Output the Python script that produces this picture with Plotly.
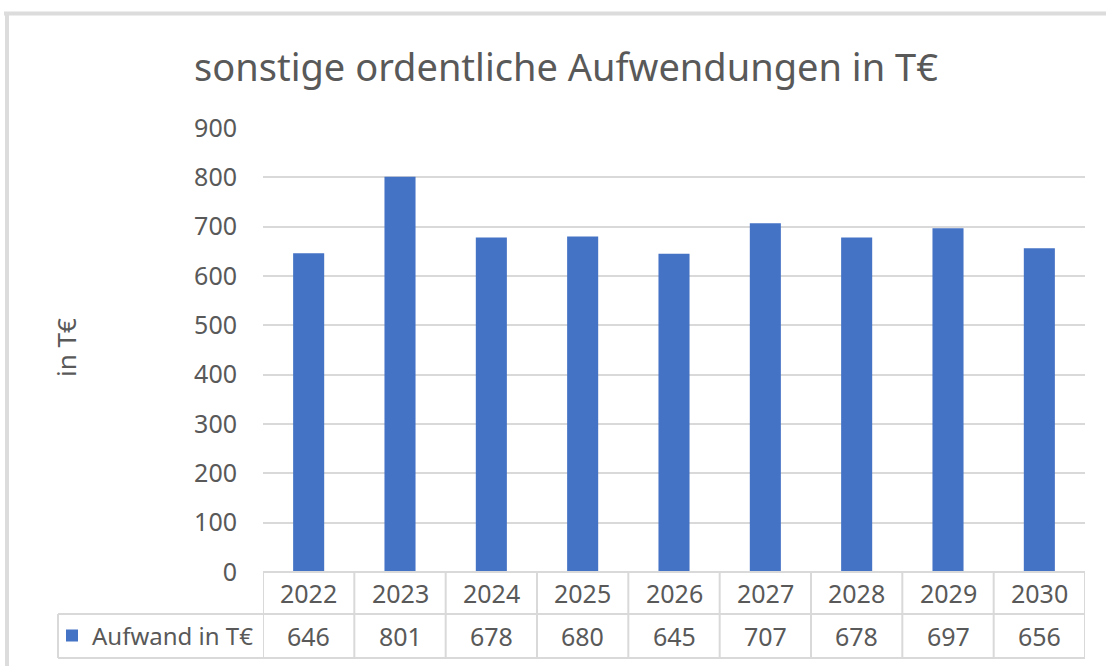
import plotly.graph_objects as go

# Data
years = ['2022', '2023', '2024', '2025', '2026', '2027', '2028', '2029', '2030']
aufwand = [646, 801, 678, 680, 645, 707, 678, 697, 656]
series_name = 'Aufwand in T€'
title_text = 'sonstige ordentliche Aufwendungen in T€'
y_title = 'in T€'
y_ticks = [0, 100, 200, 300, 400, 500, 600, 700, 800, 900]

W, H = 1106, 666
ML, MR, MT, MB = 263, 21, 128, 94
PW = W - ML - MR
PH = H - MT - MB

GRID = '#d9d9d9'
TXT = '#595959'
BLUE = '#4472C4'
FONT = 'Noto Sans'


def px_x(px):
    # pixel x -> paper x
    return (px - ML) / PW


def px_y(py):
    # pixel y -> paper y
    return (H - MB - py) / PH


fig = go.Figure()
fig.add_trace(go.Bar(x=years, y=aufwand, name=series_name,
                     marker=dict(color=BLUE, line=dict(width=0)),
                     showlegend=True))

# Table geometry (pixels)
row_top, row_mid, row_bot = 572, 614, 658
table_left = 58

shapes = []
# horizontal lines of the data table
shapes.append(dict(type='line', xref='x', yref='paper', x0=-0.5, x1=len(years) - 0.5,
                   y0=px_y(row_top), y1=px_y(row_top), line=dict(color=GRID, width=2)))
for ry in (row_mid, row_bot):
    shapes.append(dict(type='line', xref='paper', yref='paper', x0=px_x(table_left), x1=1,
                       y0=px_y(ry), y1=px_y(ry), line=dict(color=GRID, width=2)))
# vertical lines of the data table
for k in range(len(years) + 1):
    shapes.append(dict(type='line', xref='x', yref='paper', x0=k - 0.5, x1=k - 0.5,
                       y0=px_y(row_top), y1=px_y(row_bot), line=dict(color=GRID, width=2)))
shapes.append(dict(type='line', xref='paper', yref='paper', x0=px_x(table_left), x1=px_x(table_left),
                   y0=px_y(row_mid), y1=px_y(row_bot), line=dict(color=GRID, width=2)))
# outer chart frame (top + left)
shapes.append(dict(type='line', xref='paper', yref='paper', x0=px_x(4), x1=px_x(W + 5),
                   y0=px_y(13.5), y1=px_y(13.5), line=dict(color='#dcdcdc', width=4)))
shapes.append(dict(type='line', xref='paper', yref='paper', x0=px_x(7), x1=px_x(7),
                   y0=px_y(12), y1=px_y(H + 5), line=dict(color='#dcdcdc', width=4)))

annotations = []
# data table cells (category index positions on the x axis)
for i, (yr, v) in enumerate(zip(years, aufwand)):
    annotations.append(dict(x=i, y=px_y(593), xref='x', yref='paper', text=yr,
                            xanchor='center', yanchor='middle', showarrow=False,
                            font=dict(size=25, color=TXT, family=FONT)))
    annotations.append(dict(x=i, y=px_y(636), xref='x', yref='paper', text=str(v),
                            xanchor='center', yanchor='middle', showarrow=False,
                            font=dict(size=25, color=TXT, family=FONT)))
annotations.append(dict(x=px_x(66), y=px_y(348), xref='paper', yref='paper', text=y_title,
                        textangle=-90, xanchor='center', yanchor='middle', showarrow=False,
                        font=dict(size=26, color=TXT, family=FONT)))

fig.update_layout(
    width=W, height=H,
    margin=dict(l=ML, r=MR, t=MT, b=MB, autoexpand=False),
    paper_bgcolor='white', plot_bgcolor='white',
    title=dict(text=title_text, x=566 / W, xanchor='center', y=1 - 68 / H, yanchor='middle',
               font=dict(size=38, color=TXT, family=FONT)),
    bargap=0.66,
    xaxis=dict(showticklabels=False, showgrid=False, zeroline=False, showline=False,
               ticks='', range=[-0.5, len(years) - 0.5]),
    yaxis=dict(range=[0, 900], tickvals=y_ticks, showgrid=True, gridcolor=GRID, gridwidth=1.5,
               zeroline=False, showline=False, ticks='', ticklabelstandoff=25,
               tickfont=dict(size=25, color=TXT, family=FONT)),
    legend=dict(x=px_x(52), y=px_y(636), xanchor='left', yanchor='middle',
                font=dict(size=24, color=TXT, family=FONT), bgcolor='rgba(0,0,0,0)',
                itemwidth=30),
    shapes=shapes,
    annotations=annotations,
)

fig.write_html('out.html', config={'displayModeBar': False},
               post_script="document.body.style.margin='0';")
